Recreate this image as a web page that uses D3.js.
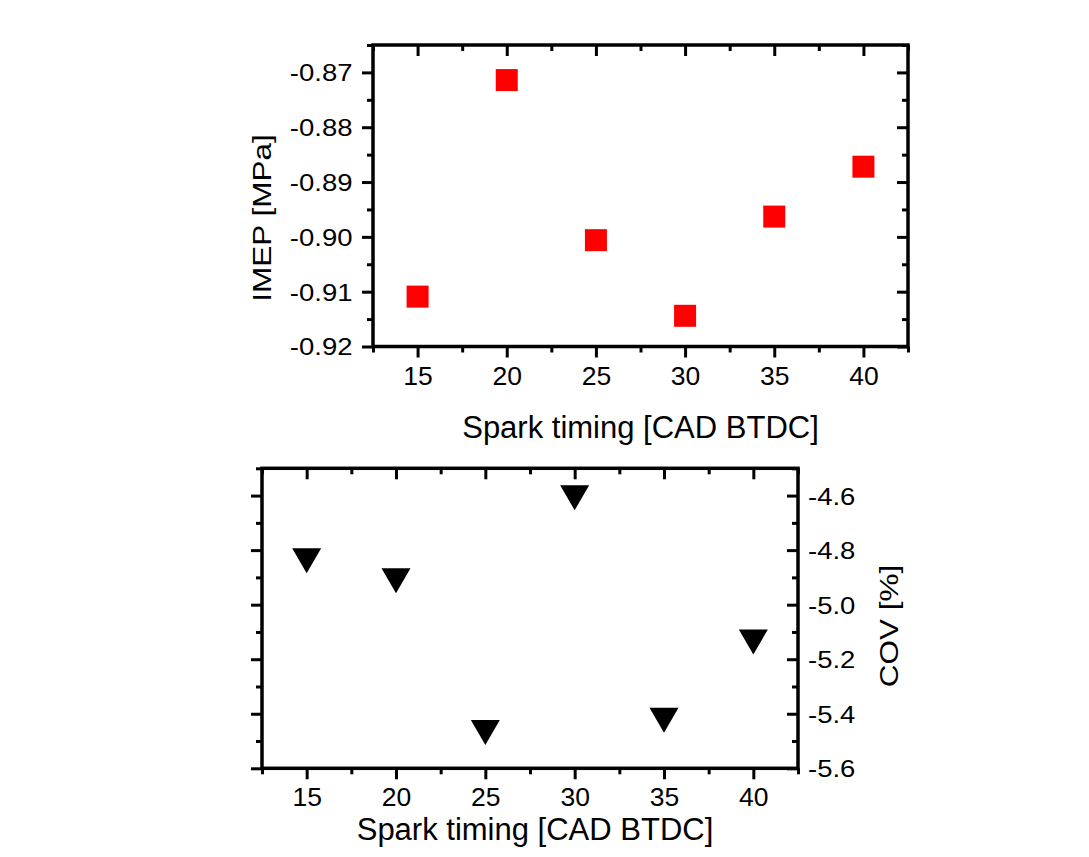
<!DOCTYPE html>
<html>
<head>
<meta charset="utf-8">
<script src="https://cdn.jsdelivr.net/npm/d3@7"></script>
<style>
  html, body { margin: 0; padding: 0; background: #fff; }
  svg { display: block; font-family: "Liberation Sans", Arial, sans-serif; }
</style>
</head>
<body>
<svg id="chart" width="1089" height="857"></svg>
<script>
// ---------------- DATA ----------------
const sparkTiming = [15, 20, 25, 30, 35, 40];
const imep = [-0.9109, -0.8714, -0.9006, -0.9144, -0.8963, -0.8872];
const cov = [-4.839, -4.9125, -5.469, -4.608, -5.424, -5.137];

const xTickValues = [15, 20, 25, 30, 35, 40];
const xTickLabels = ["15", "20", "25", "30", "35", "40"];
const xMinorTicks = [12.5, 17.5, 22.5, 27.5, 32.5, 37.5, 42.5];

const imepTickValues = [-0.92, -0.91, -0.90, -0.89, -0.88, -0.87];
const imepTickLabels = ["-0.92", "-0.91", "-0.90", "-0.89", "-0.88", "-0.87"];
const imepMinorTicks = [-0.915, -0.905, -0.895, -0.885, -0.875, -0.865];

const covTickValues = [-5.6, -5.4, -5.2, -5.0, -4.8, -4.6];
const covTickLabels = ["-5.6", "-5.4", "-5.2", "-5.0", "-4.8", "-4.6"];
const covMinorTicks = [-5.5, -5.3, -5.1, -4.9, -4.7, -4.5];

const xTitle = "Spark timing [CAD BTDC]";
const imepTitle = "IMEP [MPa]";
const covTitle = "COV [%]";

// ---------------- LAYOUT ----------------
const svg = d3.select("#chart");
svg.append("rect").attr("width", 1089).attr("height", 857).attr("fill", "#fff");

const FONT = '"Liberation Sans", Arial, sans-serif';
const LW = 3.5;

function styleAxis(g) {
  g.select(".domain").remove();
  g.selectAll(".tick line").attr("stroke", "#000").attr("stroke-width", 3);
}

function drawPanel(opt) {
  const x = d3.scaleLinear().domain([12.5, 42.5]).range([opt.left, opt.right]);
  const y = d3.scaleLinear().domain(opt.yDomain).range([opt.bottom, opt.top]);
  const g = svg.append("g");

  [opt.left, opt.right].forEach(px => {
    g.append("g").attr("transform", `translate(${px},0)`)
      .call(d3.axisLeft(y).tickValues(opt.yMinor).tickSize(6).tickFormat(""))
      .call(styleAxis);
    g.append("g").attr("transform", `translate(${px},0)`)
      .call(d3.axisLeft(y).tickValues(opt.yMajor).tickSize(11).tickFormat(""))
      .call(styleAxis);
  });
  [opt.top, opt.bottom].forEach(py => {
    g.append("g").attr("transform", `translate(0,${py})`)
      .call(d3.axisBottom(x).tickValues(xMinorTicks).tickSize(6).tickFormat(""))
      .call(styleAxis);
    g.append("g").attr("transform", `translate(0,${py})`)
      .call(d3.axisBottom(x).tickValues(xTickValues).tickSize(11).tickFormat(""))
      .call(styleAxis);
  });

  // x tick labels
  const xl = g.append("g").attr("transform", `translate(0,${opt.bottom})`)
    .call(d3.axisBottom(x).tickValues(xTickValues).tickSize(0)
      .tickFormat((d, i) => xTickLabels[i]));
  xl.select(".domain").remove();
  xl.selectAll(".tick text")
    .attr("y", 38).attr("dy", 0)
    .attr("font-size", 26.5).attr("font-family", FONT).attr("fill", "#000");

  // y tick labels
  const ySide = opt.labelsRight ? opt.right : opt.left;
  const yAxisFn = opt.labelsRight ? d3.axisRight(y) : d3.axisLeft(y);
  const yl = g.append("g").attr("transform", `translate(${ySide},0)`)
    .call(yAxisFn.tickValues(opt.yMajor).tickSize(0)
      .tickFormat((d, i) => opt.yLabels[i]));
  yl.select(".domain").remove();
  yl.selectAll(".tick text")
    .attr("x", 0).attr("dy", "0.36em")
    .attr("text-anchor", opt.labelsRight ? "start" : "end")
    .attr("transform", `translate(${opt.labelsRight ? 10 : -20.5},0) scale(1.17,1)`)
    .attr("font-size", 23.5).attr("font-family", FONT).attr("fill", "#000");

  // frame
  g.append("rect")
    .attr("x", opt.left).attr("y", opt.top)
    .attr("width", opt.right - opt.left).attr("height", opt.bottom - opt.top)
    .attr("fill", "none").attr("stroke", "#000").attr("stroke-width", LW);

  // x title
  g.append("text")
    .attr("x", opt.xTitleX).attr("y", opt.xTitleY)
    .attr("text-anchor", "middle")
    .attr("font-size", 31).attr("font-family", FONT).attr("fill", "#000")
    .text(xTitle);

  // y title (rotated)
  g.append("text")
    .attr("transform", `translate(${opt.yTitleX},${opt.yTitleY}) rotate(-90) scale(1,0.8)`)
    .attr("text-anchor", "middle")
    .attr("font-size", 31.5).attr("font-family", FONT).attr("fill", "#000")
    .text(opt.yTitle);

  return { x, y, g };
}

// ---- upper panel: IMEP ----
const panelA = drawPanel({
  left: 373, right: 908, top: 45, bottom: 346.5,
  yDomain: [-0.92, -0.865],
  yMajor: imepTickValues, yMinor: imepMinorTicks, yLabels: imepTickLabels,
  labelsRight: false,
  xTitleX: 640.5, xTitleY: 438,
  yTitle: imepTitle, yTitleX: 271, yTitleY: 218
});
const SQ = 22;
panelA.g.selectAll(".sq").data(sparkTiming).enter().append("rect")
  .attr("x", (d) => panelA.x(d) - SQ / 2)
  .attr("y", (d, i) => panelA.y(imep[i]) - SQ / 2)
  .attr("width", SQ).attr("height", SQ)
  .attr("fill", "#ff0000");

// ---- lower panel: COV ----
const panelB = drawPanel({
  left: 262, right: 798, top: 468.3, bottom: 768.3,
  yDomain: [-5.6, -4.5],
  yMajor: covTickValues, yMinor: covMinorTicks, yLabels: covTickLabels,
  labelsRight: true,
  xTitleX: 535, xTitleY: 840,
  yTitle: covTitle, yTitleX: 898, yTitleY: 626
});
const TW = 29, TH = 25;
panelB.g.selectAll(".tri").data(sparkTiming).enter().append("path")
  .attr("transform", (d, i) => `translate(${panelB.x(d)},${panelB.y(cov[i])})`)
  .attr("d", `M${-TW / 2},${-TH / 2}L${TW / 2},${-TH / 2}L0,${TH / 2}Z`)
  .attr("fill", "#000");
</script>
</body>
</html>
